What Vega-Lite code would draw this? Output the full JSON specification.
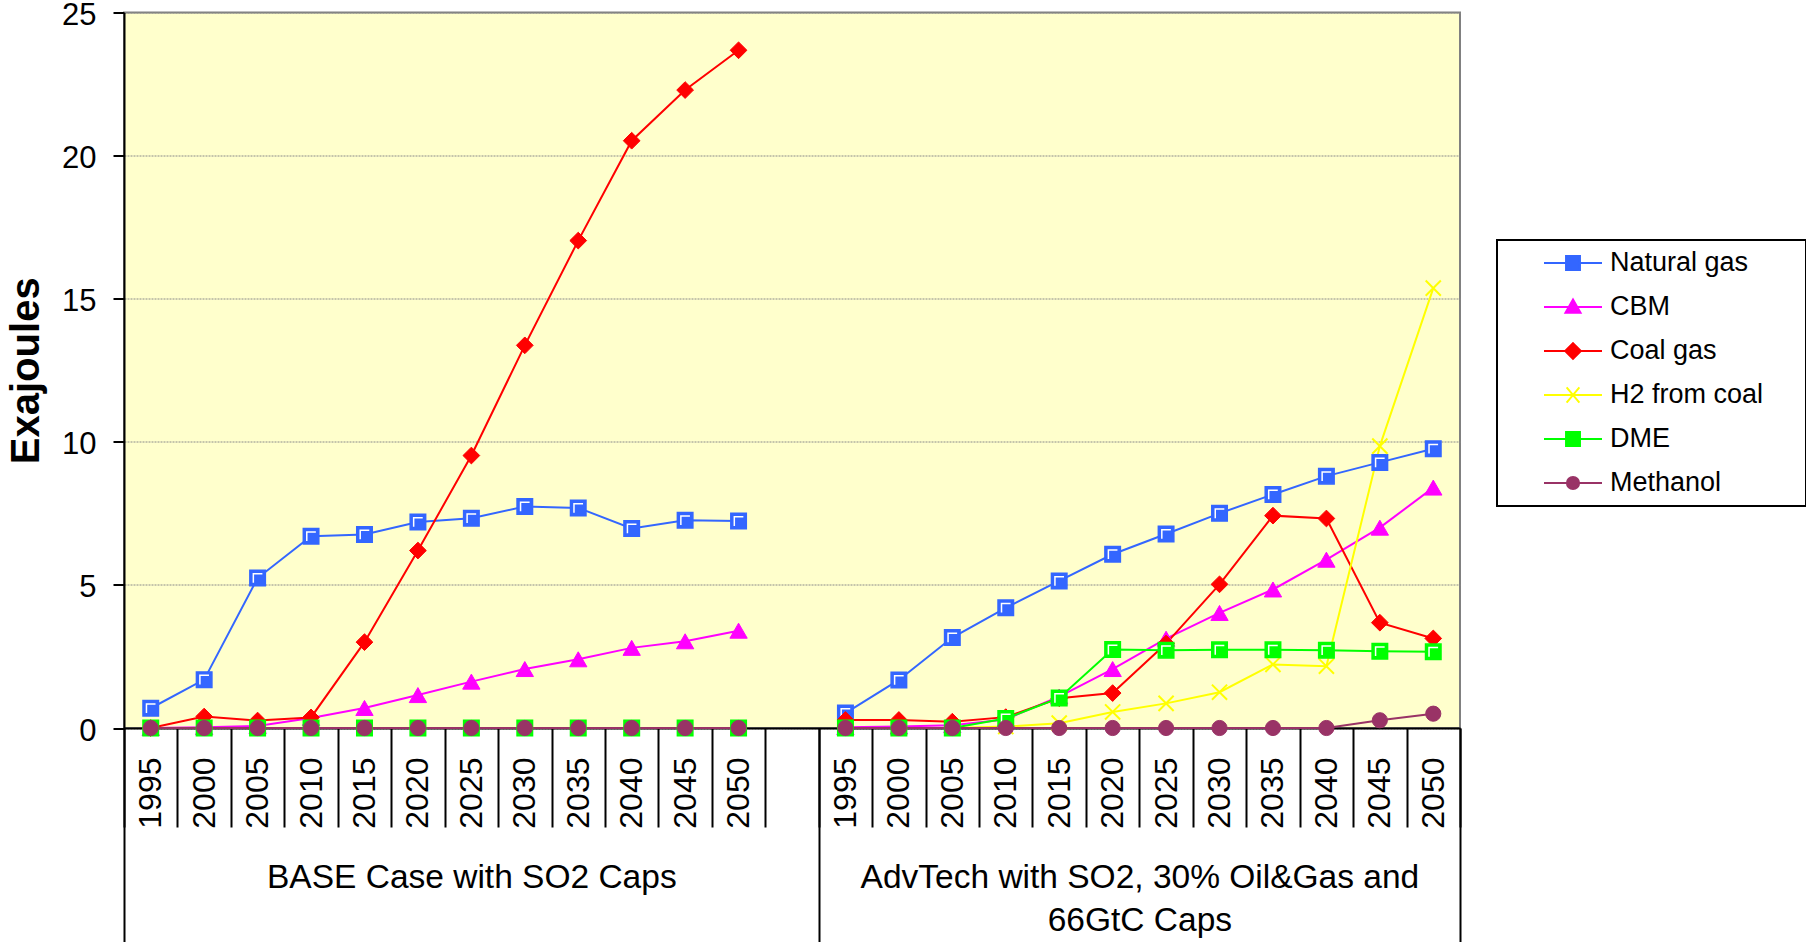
{
  "$schema": "https://vega.github.io/schema/vega-lite/v6.json",
  "autosize": {"type": "none"},
  "padding": {"left": 124, "top": 12.5, "right": 346, "bottom": 214},
  "width": 1336,
  "height": 715.5,
  "config": {
    "font": "Liberation Sans",
    "view": {"fill": "#FFFFCC", "stroke": "#808080", "strokeWidth": 2},
    "axis": {"labelColor": "black", "titleColor": "black", "domainColor": "black", "tickColor": "black", "labelFont": "Liberation Sans", "titleFont": "Liberation Sans"},
    "point": {"opacity": 1},
    "legend": {
      "orient": "none",
      "legendX": 1373,
      "legendY": 227.5,
      "fillColor": "white",
      "strokeColor": "black",
      "strokeWidth": 2,
      "padding": 8,
      "cornerRadius": 0,
      "labelFont": "Liberation Sans",
      "labelFontSize": 27,
      "labelColor": "black",
      "labelOffset": 7,
      "labelLimit": 400,
      "symbolSize": 3364,
      "symbolOffset": 38,
      "symbolStrokeWidth": 2,
      "symbolOpacity": 1,
      "clipHeight": 30,
      "rowPadding": 14,
      "titleOrient": "right",
      "titleFontSize": 27,
      "titlePadding": 35
    }
  },
  "data": {
    "values": [
      {"period": "BASE 1995", "case": "BASE", "Natural gas": 0.69, "CBM": 0, "Coal gas": 0, "H2 from coal": 0, "DME": 0, "Methanol": 0},
      {"period": "BASE 2000", "case": "BASE", "Natural gas": 1.69, "CBM": 0.03, "Coal gas": 0.4, "H2 from coal": 0, "DME": 0, "Methanol": 0},
      {"period": "BASE 2005", "case": "BASE", "Natural gas": 5.24, "CBM": 0.07, "Coal gas": 0.26, "H2 from coal": 0, "DME": 0, "Methanol": 0},
      {"period": "BASE 2010", "case": "BASE", "Natural gas": 6.7, "CBM": 0.35, "Coal gas": 0.37, "H2 from coal": 0, "DME": 0, "Methanol": 0},
      {"period": "BASE 2015", "case": "BASE", "Natural gas": 6.76, "CBM": 0.7, "Coal gas": 3.0, "H2 from coal": 0, "DME": 0, "Methanol": 0},
      {"period": "BASE 2020", "case": "BASE", "Natural gas": 7.2, "CBM": 1.15, "Coal gas": 6.2, "H2 from coal": 0, "DME": 0, "Methanol": 0},
      {"period": "BASE 2025", "case": "BASE", "Natural gas": 7.33, "CBM": 1.62, "Coal gas": 9.52, "H2 from coal": 0, "DME": 0, "Methanol": 0},
      {"period": "BASE 2030", "case": "BASE", "Natural gas": 7.74, "CBM": 2.06, "Coal gas": 13.37, "H2 from coal": 0, "DME": 0, "Methanol": 0},
      {"period": "BASE 2035", "case": "BASE", "Natural gas": 7.69, "CBM": 2.4, "Coal gas": 17.03, "H2 from coal": 0, "DME": 0, "Methanol": 0},
      {"period": "BASE 2040", "case": "BASE", "Natural gas": 6.97, "CBM": 2.8, "Coal gas": 20.52, "H2 from coal": 0, "DME": 0, "Methanol": 0},
      {"period": "BASE 2045", "case": "BASE", "Natural gas": 7.26, "CBM": 3.03, "Coal gas": 22.29, "H2 from coal": 0, "DME": 0, "Methanol": 0},
      {"period": "BASE 2050", "case": "BASE", "Natural gas": 7.23, "CBM": 3.4, "Coal gas": 23.68, "H2 from coal": 0, "DME": 0, "Methanol": 0},
      {"period": "ADV 1995", "case": "ADV", "Natural gas": 0.52, "CBM": 0.03, "Coal gas": 0.28, "H2 from coal": 0, "DME": 0, "Methanol": 0},
      {"period": "ADV 2000", "case": "ADV", "Natural gas": 1.68, "CBM": 0.05, "Coal gas": 0.28, "H2 from coal": 0, "DME": 0, "Methanol": 0},
      {"period": "ADV 2005", "case": "ADV", "Natural gas": 3.16, "CBM": 0.1, "Coal gas": 0.22, "H2 from coal": 0, "DME": 0, "Methanol": 0},
      {"period": "ADV 2010", "case": "ADV", "Natural gas": 4.2, "CBM": 0.3, "Coal gas": 0.38, "H2 from coal": 0.05, "DME": 0.33, "Methanol": 0},
      {"period": "ADV 2015", "case": "ADV", "Natural gas": 5.14, "CBM": 1.1, "Coal gas": 1.04, "H2 from coal": 0.17, "DME": 1.05, "Methanol": 0},
      {"period": "ADV 2020", "case": "ADV", "Natural gas": 6.07, "CBM": 2.06, "Coal gas": 1.22, "H2 from coal": 0.56, "DME": 2.74, "Methanol": 0},
      {"period": "ADV 2025", "case": "ADV", "Natural gas": 6.78, "CBM": 3.12, "Coal gas": 2.95, "H2 from coal": 0.86, "DME": 2.72, "Methanol": 0},
      {"period": "ADV 2030", "case": "ADV", "Natural gas": 7.5, "CBM": 4.02, "Coal gas": 5.02, "H2 from coal": 1.25, "DME": 2.73, "Methanol": 0},
      {"period": "ADV 2035", "case": "ADV", "Natural gas": 8.16, "CBM": 4.84, "Coal gas": 7.42, "H2 from coal": 2.22, "DME": 2.73, "Methanol": 0},
      {"period": "ADV 2040", "case": "ADV", "Natural gas": 8.8, "CBM": 5.88, "Coal gas": 7.32, "H2 from coal": 2.16, "DME": 2.72, "Methanol": 0},
      {"period": "ADV 2045", "case": "ADV", "Natural gas": 9.28, "CBM": 7.0, "Coal gas": 3.68, "H2 from coal": 9.85, "DME": 2.68, "Methanol": 0.27},
      {"period": "ADV 2050", "case": "ADV", "Natural gas": 9.76, "CBM": 8.4, "Coal gas": 3.13, "H2 from coal": 15.37, "DME": 2.66, "Methanol": 0.5}
    ]
  },
  "transform": [
    {"fold": ["Natural gas", "CBM", "Coal gas", "H2 from coal", "DME", "Methanol"], "as": ["fuel", "ej"]}
  ],
  "encoding": {
    "x": {
      "field": "period",
      "type": "ordinal",
      "scale": {
        "type": "band", "paddingInner": 0, "paddingOuter": 0,
        "domain": ["BASE 1995", "BASE 2000", "BASE 2005", "BASE 2010", "BASE 2015", "BASE 2020", "BASE 2025", "BASE 2030", "BASE 2035", "BASE 2040", "BASE 2045", "BASE 2050", "gap", "ADV 1995", "ADV 2000", "ADV 2005", "ADV 2010", "ADV 2015", "ADV 2020", "ADV 2025", "ADV 2030", "ADV 2035", "ADV 2040", "ADV 2045", "ADV 2050"]
      },
      "axis": null
    },
    "y": {
      "field": "ej",
      "type": "quantitative",
      "scale": {"domain": [0, 25], "nice": false},
      "axis": {
        "title": "Exajoules",
        "titleFontSize": 40,
        "titleFontWeight": "bold",
        "titlePadding": 15,
        "values": [0, 5, 10, 15, 20, 25],
        "grid": true,
        "gridColor": "#8a8a8a",
        "gridDash": [2, 1],
        "gridWidth": 1,
        "tickSize": 11,
        "tickWidth": 2,
        "domainWidth": 2,
        "labelFontSize": 31,
        "labelPadding": 17,
        "labelOffset": 3
      }
    }
  },
  "layer": [
    {
      "mark": {"type": "point", "filled": true, "opacity": 0, "size": 3364},
      "encoding": {
        "color": {
          "field": "fuel",
          "type": "nominal",
          "scale": {
            "domain": ["Natural gas", "CBM", "Coal gas", "H2 from coal", "DME", "Methanol"],
            "range": ["#3366FF", "#FF00FF", "#FF0000", "#FFFF00", "#00FF00", "#993366"]
          },
          "legend": {"title": "\u00a0"}
        },
        "stroke": {
          "field": "fuel",
          "type": "nominal",
          "scale": {
            "domain": ["Natural gas", "CBM", "Coal gas", "H2 from coal", "DME", "Methanol"],
            "range": ["#3366FF", "#FF00FF", "#FF0000", "#FFFF00", "#00FF00", "#993366"]
          },
          "legend": {"title": "\u00a0"}
        },
        "shape": {
          "field": "fuel",
          "type": "nominal",
          "scale": {
            "domain": ["Natural gas", "CBM", "Coal gas", "H2 from coal", "DME", "Methanol"],
            "range": [
              "M-1,0H1M-0.24,-0.24H0.24V0.24H-0.24Z",
              "M-1,0H1M0,-0.26L0.26,0.2H-0.26Z",
              "M-1,0H1M0,-0.27L0.27,0L0,0.27L-0.27,0Z",
              "M-1,0H1M-0.22,-0.26L0.22,0.26M-0.22,0.26L0.22,-0.26",
              "M-1,0H1M-0.24,-0.24H0.24V0.24H-0.24Z",
              "M-1,0H1M0.21,0A0.21,0.21,0,1,1,-0.21,0A0.21,0.21,0,1,1,0.21,0Z"
            ]
          },
          "legend": {"title": "\u00a0"}
        }
      }
    },
    {
      "mark": {"type": "line", "strokeWidth": 2},
      "encoding": {
        "x": {
          "field": "period",
          "type": "ordinal",
          "scale": {
            "type": "band", "paddingInner": 0, "paddingOuter": 0,
            "domain": ["BASE 1995", "BASE 2000", "BASE 2005", "BASE 2010", "BASE 2015", "BASE 2020", "BASE 2025", "BASE 2030", "BASE 2035", "BASE 2040", "BASE 2045", "BASE 2050", "gap", "ADV 1995", "ADV 2000", "ADV 2005", "ADV 2010", "ADV 2015", "ADV 2020", "ADV 2025", "ADV 2030", "ADV 2035", "ADV 2040", "ADV 2045", "ADV 2050"]
          },
          "axis": {
            "orient": "bottom",
            "title": null,
            "domainWidth": 2,
            "tickBand": "extent",
            "tickSize": 99,
            "tickWidth": 2,
            "labelAngle": -90,
            "labelAlign": "right",
            "labelBaseline": "middle",
            "labelFontSize": 32,
            "labelPadding": -70,
            "labelOverlap": false,
            "labelBound": false,
            "grid": false,
            "labelExpr": "isString(datum.value) && datum.value !== 'gap' ? slice(datum.value, -4) : ''"
          }
        },
        "color": {
          "field": "fuel",
          "type": "nominal",
          "scale": {
            "domain": ["Natural gas", "CBM", "Coal gas", "H2 from coal", "DME", "Methanol"],
            "range": ["#3366FF", "#FF00FF", "#FF0000", "#FFFF00", "#00FF00", "#993366"]
          }
        },
        "detail": {"field": "case"}
      }
    },
    {
      "transform": [{"filter": {"field": "fuel", "equal": "Natural gas"}}],
      "mark": {"type": "point", "shape": "square", "filled": true, "size": 240, "fill": "#3366FF", "strokeWidth": 1.5, "stroke": "#3366FF"},
      "encoding": {
        "x": {
          "field": "period",
          "type": "ordinal",
          "scale": {
            "type": "band", "paddingInner": 0, "paddingOuter": 0,
            "domain": ["BASE 1995", "BASE 2000", "BASE 2005", "BASE 2010", "BASE 2015", "BASE 2020", "BASE 2025", "BASE 2030", "BASE 2035", "BASE 2040", "BASE 2045", "BASE 2050", "gap", "ADV 1995", "ADV 2000", "ADV 2005", "ADV 2010", "ADV 2015", "ADV 2020", "ADV 2025", "ADV 2030", "ADV 2035", "ADV 2040", "ADV 2045", "ADV 2050"]
          },
          "axis": {
            "orient": "bottom",
            "title": null,
            "domain": false,
            "grid": false,
            "values": ["BASE 1995", "gap", "ADV 2050"],
            "tickBand": "extent",
            "tickSize": 214,
            "tickWidth": 2,
            "tickColor": "black",
            "tickOpacity": {"condition": {"test": "datum.value === 'BASE 1995'", "value": 0}, "value": 1},
            "labelAngle": 0,
            "labelAlign": "center",
            "labelBaseline": "top",
            "labelFontSize": 33.5,
            "labelLineHeight": 43,
            "labelPadding": -81,
            "labelOverlap": false,
            "labelBound": false,
            "labelLimit": 800,
            "labelOffset": {"condition": {"test": "datum.value === 'BASE 1995'", "value": 320.6}, "value": -293.9},
            "labelExpr": "datum.value === 'BASE 1995' ? 'BASE Case with SO2 Caps' : datum.value === 'ADV 2050' ? ['AdvTech with SO2, 30% Oil&Gas and', '66GtC Caps'] : ''"
          }
        }
      }
    },
    {
      "transform": [{"filter": {"field": "fuel", "equal": "Natural gas"}}],
      "mark": {"type": "point", "shape": "M-0.55,0.62V-0.55H0.62", "filled": false, "size": 240, "stroke": "white", "strokeWidth": 1.5}
    },
    {
      "transform": [{"filter": {"field": "fuel", "equal": "CBM"}}],
      "mark": {"type": "point", "shape": "triangle-up", "filled": true, "size": 300, "fill": "#FF00FF", "stroke": "#FF00FF", "strokeWidth": 1}
    },
    {
      "transform": [{"filter": {"field": "fuel", "equal": "Coal gas"}}],
      "mark": {"type": "point", "shape": "diamond", "filled": true, "size": 280, "fill": "#FF0000", "stroke": "#FF0000", "strokeWidth": 1}
    },
    {
      "transform": [{"filter": {"field": "fuel", "equal": "H2 from coal"}}],
      "mark": {"type": "point", "shape": "M-1,-1L1,1M-1,1L1,-1", "filled": false, "size": 230, "stroke": "#FFFF00", "strokeWidth": 2}
    },
    {
      "transform": [{"filter": {"field": "fuel", "equal": "DME"}}],
      "mark": {"type": "point", "shape": "square", "filled": true, "size": 240, "fill": "#00FF00", "strokeWidth": 1.5, "stroke": "#00FF00"}
    },
    {
      "transform": [{"filter": {"field": "fuel", "equal": "DME"}}],
      "mark": {"type": "point", "shape": "M-0.55,0.62V-0.55H0.62", "filled": false, "size": 240, "stroke": "white", "strokeWidth": 1.5}
    },
    {
      "transform": [{"filter": {"field": "fuel", "equal": "Methanol"}}],
      "mark": {"type": "point", "shape": "circle", "filled": true, "size": 230, "fill": "#993366", "stroke": "#993366", "strokeWidth": 1}
    }
  ],
  "resolve": {"axis": {"x": "independent"}}
}
